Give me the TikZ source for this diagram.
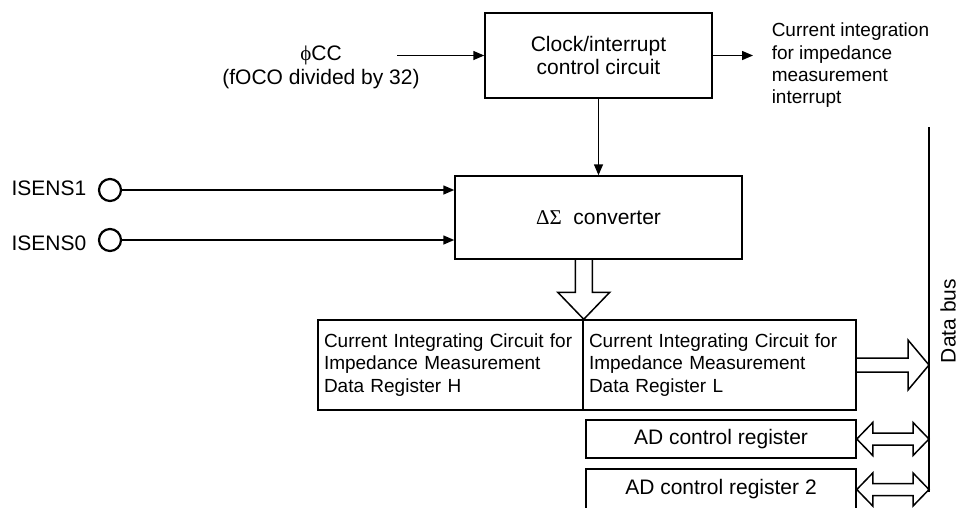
\documentclass[tikz,border=0pt]{standalone}
\usepackage[no-math]{fontspec}
\setmainfont{Liberation Sans}
\newfontfamily\greekfont{Liberation Serif}
\usetikzlibrary{arrows.meta,calc}
\tikzstyle{blockbox}=[draw=black,line width=1.5pt,inner sep=6pt,
                      font=\fontsize{21}{23}\selectfont]
\tikzstyle{regbox}=[blockbox,align=left,minimum height=90pt,
                    font=\fontsize{19}{22.5}\selectfont]
\tikzstyle{terminal}=[circle,draw=black,line width=2.2pt,
                      inner sep=0pt,minimum size=22pt]
\tikzstyle{hollowarrow}=[draw=black,line width=1.5pt,line join=miter]
\tikzstyle{bigtext}=[inner sep=0pt,font=\fontsize{21}{24}\selectfont]

\begin{document}
\begin{tikzpicture}[x=1pt,y=-1pt,line width=1.5pt,
                    >={Triangle[length=11pt,width=9pt]}]
    \useasboundingbox (0,0) rectangle (960,507);
    \clip (0,0) rectangle (960,507);
    % blocks
    \node (clk) at (598.5,55.5) [blockbox,align=center,minimum width=227pt,
        minimum height=85pt]{Clock/interrupt\\control circuit};
    \node (dsc) at (598.5,217.5) [blockbox,minimum width=287pt,
        minimum height=83pt]{{\greekfont ΔΣ}\ \ converter};
    \node (regh) at (450.5,365) [regbox,text width=253pt]
        {Current Integrating Circuit for\\Impedance Measurement\\Data Register H};
    \node (regl) at (719.5,365) [regbox,text width=261pt]
        {Current Integrating Circuit for\\Impedance Measurement\\Data Register L};
    \node (adc) at (721,439) [blockbox,minimum width=270pt,
        minimum height=38pt]{AD control register};
    \node (adcb) at (721,489.5) [blockbox,minimum width=270pt,
        minimum height=41pt]{AD control register 2};
    % inputs
    \node (in1) at (110,190) [terminal]{};
    \node (in0) at (110,240) [terminal]{};
    \node (in1txt) at (87,188) [bigtext,anchor=east]{ISENS1};
    \node (in0txt) at (87,243) [bigtext,anchor=east]{ISENS0};
    \draw[->] (in1) -- (in1 -| dsc.west);
    \draw[->] (in0) -- (in0 -| dsc.west);
    % clock and interrupt
    \node (phicc) at (321,67) [bigtext,align=center]
        {{\greekfont ϕ}CC\\(fOCO divided by 32)};
    \coordinate (phiin) at (397,55.5);
    \coordinate (irqout) at (753,55.5);
    \draw[->] (phiin) -- (clk);
    \draw[->] (clk) -- (irqout);
    \draw[->] (clk) -- (dsc);
    \node (irqtxt) at (771,65.5) [anchor=west,align=left,inner sep=0pt,
        font=\fontsize{19}{22.3}\selectfont]
        {Current integration\\for impedance\\measurement\\interrupt};
    % data bus
    \coordinate (bustop) at (929,127);
    \coordinate (busbot) at (929,492);
    \draw (bustop) -- (busbot);
    \node (bustxt) at (948,321) [bigtext,rotate=90]{Data bus};
    % hollow arrows
    \draw[hollowarrow] (regh.north east) ++(-8.5,-60) -- ++(0,33)
        -- ++(-17.5,0) -- (regh.north east) -- ++(26,-27) -- ++(-17.5,0)
        -- ++(0,-33);
    \draw[hollowarrow] ($(regl.east)+(0,-7)$) -- ($(regl.east -| bustop)+(-21,-7)$)
        -- ++(0,-18) -- (regl.east -| bustop) -- ++(-21,25) -- ++(0,-18)
        -- ($(regl.east)+(0,7)$);
    \foreach \r in {adc,adcb}
        \draw[hollowarrow] (\r.east) -- ++(16,-16.5) -- ++(0,10.5)
            -- ($(\r.east -| bustop)+(-16,-6)$) -- ++(0,-10.5)
            -- (\r.east -| bustop) -- ++(-16,16.5) -- ++(0,-10.5)
            -- ($(\r.east)+(16,6)$) -- ++(0,10.5) -- cycle;
\end{tikzpicture}
\end{document}
